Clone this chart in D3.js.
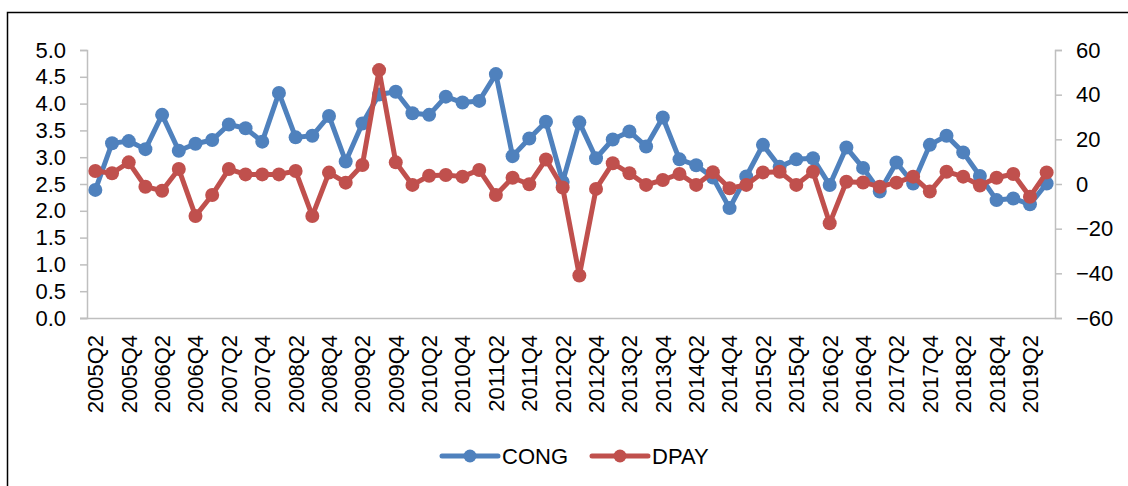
<!DOCTYPE html>
<meta charset="utf-8">
<script src="https://cdn.jsdelivr.net/npm/d3@7"></script>
<style>
  body { margin: 0; background: #fff; }
  text { font-family: "Liberation Sans", Arial, sans-serif; fill: #000; }
</style>
<div id="wrapper"></div>
<script>
  // Data
  const quarters = [
    "2005Q2","2005Q3","2005Q4","2006Q1","2006Q2","2006Q3","2006Q4","2007Q1",
    "2007Q2","2007Q3","2007Q4","2008Q1","2008Q2","2008Q3","2008Q4","2009Q1",
    "2009Q2","2009Q3","2009Q4","2010Q1","2010Q2","2010Q3","2010Q4","2011Q1",
    "2011Q2","2011Q3","2011Q4","2012Q1","2012Q2","2012Q3","2012Q4","2013Q1",
    "2013Q2","2013Q3","2013Q4","2014Q1","2014Q2","2014Q3","2014Q4","2015Q1",
    "2015Q2","2015Q3","2015Q4","2016Q1","2016Q2","2016Q3","2016Q4","2017Q1",
    "2017Q2","2017Q3","2017Q4","2018Q1","2018Q2","2018Q3","2018Q4","2019Q1",
    "2019Q2","2019Q3"];

  const cong = [
    2.39, 3.26, 3.30, 3.15, 3.79, 3.12, 3.25, 3.32, 3.61, 3.54,
    3.29, 4.20, 3.37, 3.40, 3.77, 2.92, 3.63, 4.17, 4.22, 3.82,
    3.79, 4.13, 4.02, 4.05, 4.55, 3.02, 3.35, 3.66, 2.54, 3.65,
    2.98, 3.33, 3.48, 3.20, 3.74, 2.96, 2.85, 2.62, 2.05, 2.64,
    3.23, 2.82, 2.96, 2.98, 2.48, 3.18, 2.80, 2.36, 2.90, 2.51,
    3.23, 3.40, 3.09, 2.65, 2.20, 2.23, 2.12, 2.51];

  const dpay = [
    5.8, 4.8, 9.7, -1.2, -3.0, 6.7, -14.3, -4.9, 6.7, 4.3,
    4.3, 4.3, 5.8, -14.3, 5.1, 0.6, 8.5, 51.0, 9.7, -0.4,
    3.7, 4.0, 3.3, 6.3, -4.9, 2.8, -0.1, 11.0, -1.6, -41.0,
    -2.2, 9.3, 4.8, -0.4, 1.8, 4.5, -0.4, 5.3, -1.9, -0.4,
    5.2, 5.5, -0.4, 5.5, -17.6, 1.0, 0.7, -1.2, 0.6, 3.3,
    -3.4, 5.5, 3.3, -0.7, 2.8, 4.5, -5.7, 5.2];

  const leftTicks = [0, 0.5, 1, 1.5, 2, 2.5, 3, 3.5, 4, 4.5, 5];
  const rightTicks = [-60, -40, -20, 0, 20, 40, 60];
  const seriesNames = ["CONG", "DPAY"];
  const colors = ["#4f81bd", "#c0504d"];

  // Layout
  const W = 1128, H = 486;
  const plot = { left: 87, right: 1055, top: 50, bottom: 318 };
  const axisColor = "#bfbfbf";

  const svg = d3.select("#wrapper")
    .append("svg")
    .attr("width", W)
    .attr("height", H);

  // outer frame (top and left edges)
  svg.append("path")
    .attr("d", `M7.5,${H} V12.5 H${W}`)
    .attr("fill", "none")
    .attr("stroke", "#000")
    .attr("stroke-width", 1.5);

  // Scales
  const x = d3.scaleBand()
    .domain(quarters)
    .range([plot.left, plot.right]);
  const cx = d => x(d) + x.bandwidth() / 2;

  const yL = d3.scaleLinear()
    .domain([0, 5])
    .range([plot.bottom, plot.top]);

  const yR = d3.scaleLinear()
    .domain([-60, 60])
    .range([plot.bottom, plot.top]);

  // Left axis
  const gL = svg.append("g")
    .attr("transform", `translate(${plot.left},0)`)
    .call(d3.axisLeft(yL).tickValues(leftTicks).tickFormat(d3.format(".1f")).tickSize(7).tickPadding(14));

  // Right axis
  const gR = svg.append("g")
    .attr("transform", `translate(${plot.right},0)`)
    .call(d3.axisRight(yR).tickValues(rightTicks).tickSize(7).tickPadding(14));

  // X axis
  const gX = svg.append("g")
    .attr("transform", `translate(0,${plot.bottom})`)
    .call(d3.axisBottom(x).tickSize(0).tickSizeOuter(0)
      .tickValues(quarters.filter((q, i) => i % 2 === 0)));

  gX.selectAll("text")
    .attr("transform", "rotate(-90)")
    .attr("text-anchor", "end")
    .attr("x", -17)
    .attr("y", 0)
    .attr("dy", "0.36em");

  [gL, gR, gX].forEach(g => {
    g.select(".domain").attr("stroke", axisColor).attr("stroke-width", 1.5);
    g.selectAll(".tick line").attr("stroke", axisColor).attr("stroke-width", 1.5);
    g.selectAll("text").style("font-size", "22px").attr("fill", "#000")
      .style("font-family", "'Liberation Sans', Arial, sans-serif");
  });
  gX.select(".domain").attr("d", `M${plot.left - 7},0.5H${plot.right}`);

  // Lines
  const series = [
    { name: seriesNames[0], values: cong, y: yL, color: colors[0] },
    { name: seriesNames[1], values: dpay, y: yR, color: colors[1] }
  ];

  series.forEach(s => {
    const line = d3.line()
      .x((d, i) => cx(quarters[i]))
      .y(d => s.y(d));

    svg.append("path")
      .datum(s.values)
      .attr("fill", "none")
      .attr("stroke", s.color)
      .attr("stroke-width", 5)
      .attr("stroke-linejoin", "round")
      .attr("d", line);

    svg.append("g")
      .selectAll("circle")
      .data(s.values)
      .join("circle")
      .attr("cx", (d, i) => cx(quarters[i]))
      .attr("cy", d => s.y(d))
      .attr("r", 7)
      .attr("fill", s.color);
  });

  // Legend
  const legendY = 456;
  const legendX = [442, 592];
  const legend = svg.append("g");
  series.forEach((s, i) => {
    const g = legend.append("g").attr("transform", `translate(${legendX[i]},${legendY})`);
    g.append("line")
      .attr("x1", 0).attr("x2", 56)
      .attr("stroke", s.color)
      .attr("stroke-width", 5)
      .attr("stroke-linecap", "round");
    g.append("circle")
      .attr("cx", 28)
      .attr("r", 6.5)
      .attr("fill", s.color);
    g.append("text")
      .attr("x", 60)
      .attr("dy", "0.36em")
      .style("font-size", "22px")
      .text(s.name);
  });
</script>
